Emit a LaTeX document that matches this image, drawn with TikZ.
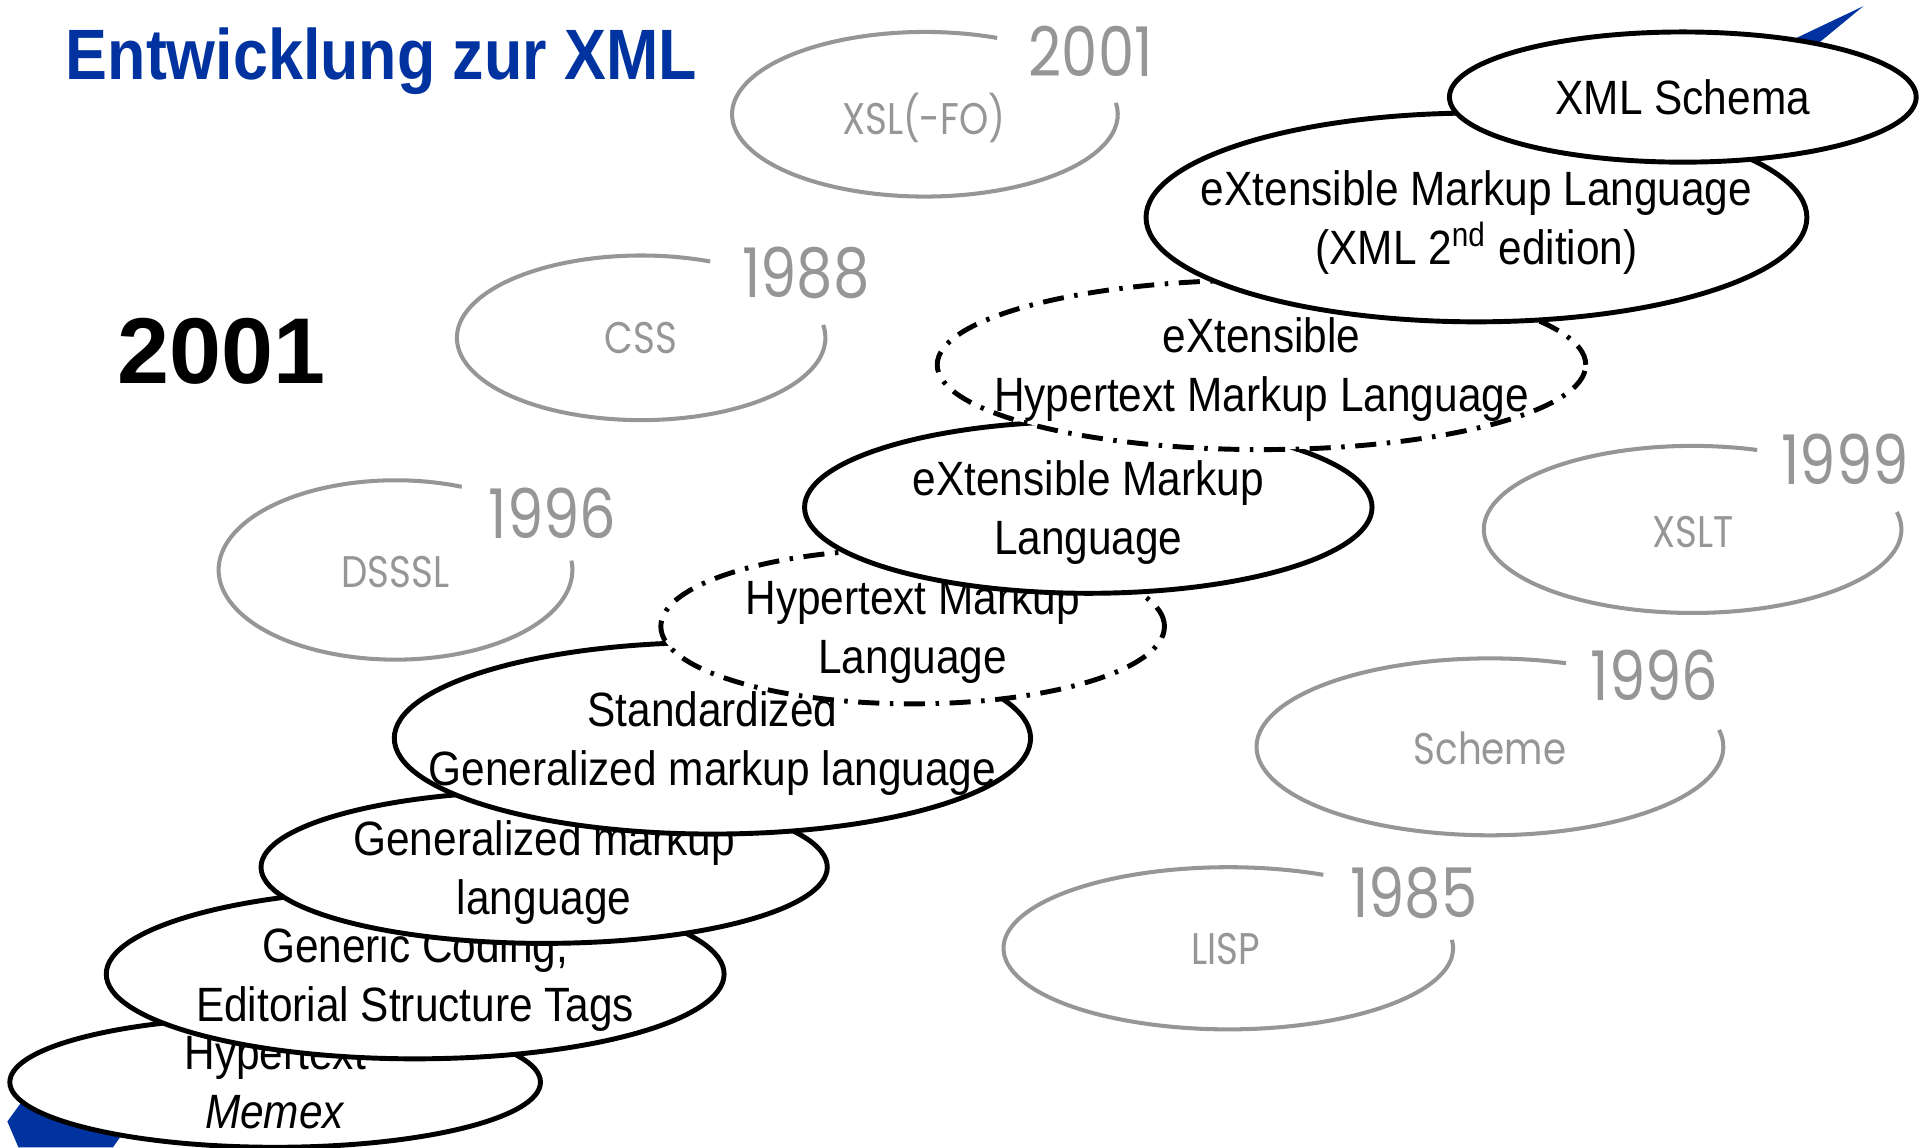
\documentclass[tikz,border=0pt]{standalone}
\usepackage{fontspec}
\setmainfont{Liberation Sans}[FakeStretch=0.88]
\newfontfamily\lightfont{Poppins}[FakeStretch=0.84]
\newfontfamily\digitfont{Liberation Sans}
\usetikzlibrary{shapes.geometric}

\definecolor{titleblue}{RGB}{0,51,160}
\definecolor{ringgray}{RGB}{150,150,150}
\newcommand{\pxu}{0.3495pt}

\begin{document}
\begin{tikzpicture}[x=0.3495pt, y=0.3495pt,
  ring/.style={ringgray, line width=1.15pt},
  graytext/.style={ringgray, inner sep=0pt, font=\lightfont\fontsize{12.6}{15}\selectfont},
  yeartext/.style={ringgray, inner sep=0pt, font=\lightfont\fontsize{19.5}{22}\selectfont},
  era/.style 2 args={ellipse, draw, line width=1.4pt, fill=white, inner sep=-60pt,
    align=center, text depth=0pt, minimum width=#1*\pxu, minimum height=#2*\pxu,
    font=\fontsize{13.7}{16.8}\selectfont},
  dashdot/.style={dash pattern=on 6pt off 3pt on 1pt off 3pt}]

\useasboundingbox (0,0) rectangle (1568,-934);

% title
\node (title) at (53,-65) [anchor=base west, inner sep=0pt, titleblue,
  font=\bfseries\fontsize{20.3}{24}\selectfont] {Entwicklung zur XML};
\node (now) at (95,-312) [anchor=base west, inner sep=0pt,
  font=\digitfont\bfseries\fontsize{26.6}{30}\selectfont] {2001};

% blue corners
\fill[titleblue] (1517,-5) -- (1420,-51) -- (1460,-52) -- cycle;
\fill[titleblue] (6,-913) -- (30,-880) -- (130,-880) -- (92,-934) -- (15,-934) -- cycle;

% gray rings
\draw[ring] (753,-93) ++(68:157 and 67) arc[start angle=68, end angle=368, x radius=157, y radius=67];
\node (xsl) at (752,-96) [graytext] {XSL(-FO)};
\node (xslyear) at (888,-42) [yeartext] {2001};

\draw[ring] (522,-275) ++(68:150 and 67) arc[start angle=68, end angle=369, x radius=150, y radius=67];
\node (css) at (522,-275) [graytext] {CSS};
\node (cssyear) at (656,-222) [yeartext] {1988};

\draw[ring] (322,-464) ++(68:144 and 73) arc[start angle=68, end angle=366, x radius=144, y radius=73];
\node (dsssl) at (322,-466) [graytext] {DSSSL};
\node (dssslyear) at (450,-418) [yeartext] {1996};

\draw[ring] (1378,-431) ++(72:170 and 68) arc[start angle=72, end angle=372, x radius=170, y radius=68];
\node (xslt) at (1378,-433) [graytext] {XSLT};
\node (xsltyear) at (1502,-374) [yeartext] {1999};

\draw[ring] (1213,-608) ++(71:190 and 72) arc[start angle=71, end angle=371, x radius=190, y radius=72];
\node (scheme) at (1213,-609) [graytext] {Scheme};
\node (schemeyear) at (1347,-550) [yeartext] {1996};

\draw[ring] (1000,-772) ++(65:183 and 66) arc[start angle=65, end angle=366, x radius=183, y radius=66];
\node (lisp) at (998,-773) [graytext] {LISP};
\node (lispyear) at (1151,-727) [yeartext] {1985};

% the stair of markup languages, bottom first
\node (memex) at (224,-881) [era={432}{106}] {Hypertext\\\textit{Memex}};
\node (gencode) at (338,-793) [era={503}{138}] {Generic Coding,\\Editorial Structure Tags};
\node (gml) at (443,-706) [era={461}{124}] {Generalized markup\\language};
\node (sgml) at (580,-601) [era={518}{156}] {Standardized\\Generalized markup language};
\node (html) at (743,-510) [era={410}{126}, dashdot] {Hypertext Markup\\Language};
\node (xml) at (886,-413) [era={462}{140}] {eXtensible Markup\\Language};
\node (xhtml) at (1027,-297) [era={528}{138}, dashdot] {eXtensible\\Hypertext Markup Language};
\node (xmltwo) at (1202,-177) [era={538}{170}] {eXtensible Markup Language\\(XML 2\textsuperscript{nd} edition)};
\node (schema) at (1370,-79) [era={380}{106}] {XML Schema};

\end{tikzpicture}
\end{document}
